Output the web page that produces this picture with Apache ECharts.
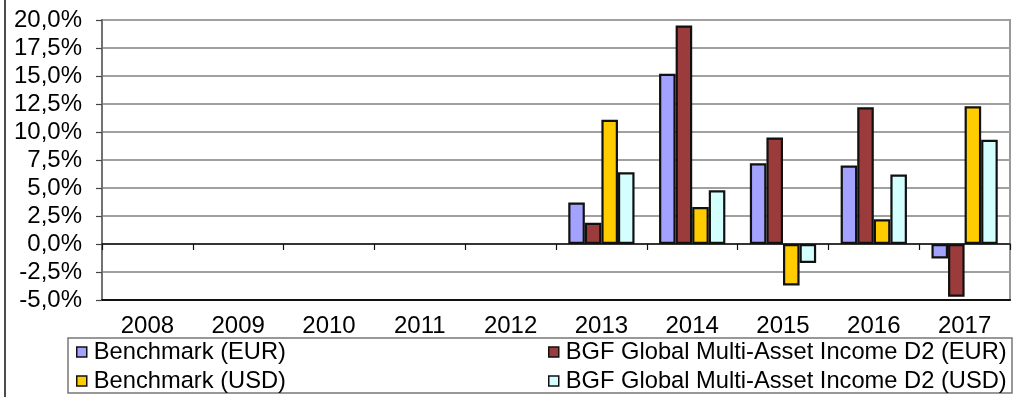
<!DOCTYPE html>
<html>
<head>
<meta charset="utf-8">
<script src="https://cdn.jsdelivr.net/npm/echarts@6/dist/echarts.min.js"></script>
<style>
html,body{margin:0;padding:0;background:#fff;}
#c{width:1013px;height:397px;}
</style>
</head>
<body>
<div id="c"></div>
<script>
var years = ['2008','2009','2010','2011','2012','2013','2014','2015','2016','2017'];
var benchmarkEUR = [null,null,null,null,null,3.7,15.2,7.2,7.0,-1.3];
var bgfEUR       = [null,null,null,null,null,1.9,19.5,9.5,12.2,-4.7];
var benchmarkUSD = [null,null,null,null,null,11.1,3.3,-3.7,2.2,12.3];
var bgfUSD       = [null,null,null,null,null,6.4,4.8,-1.7,6.2,9.3];
var seriesNames = ['Benchmark (EUR)','BGF Global Multi-Asset Income D2 (EUR)','Benchmark (USD)','BGF Global Multi-Asset Income D2 (USD)'];
var yMin = -5, yMax = 20, yStep = 2.5;

var colors = ['#a3a3ff','#9c3b3b','#ffcc00','#d4ffff'];
var font = '"Liberation Sans", Arial, sans-serif';

function bar(name, data, color){
  return {
    name: name, type: 'bar', data: data,
    xAxisIndex: 0, yAxisIndex: 0,
    barGap: '0%', barCategoryGap: '27%',
    itemStyle: {color: color, borderColor: '#111', borderWidth: 2.2},
    emphasis: {disabled: true},
    animation: false
  };
}

function legendBlock(names, left){
  return {data: names, orient: 'vertical', left: left, top: 340, height: 57, padding: 0,
    itemWidth: 10, itemHeight: 10, itemGap: 5, icon: 'rect',
    itemStyle: {borderColor: '#111', borderWidth: 1.5},
    textStyle: {fontSize: 23.7, fontFamily: font, color: '#000', lineHeight: 23, padding: [0,0,0,2]}};
}

var chart = echarts.init(document.getElementById('c'), null, {renderer: 'canvas'});
chart.setOption({
  animation: false,
  backgroundColor: '#fff',
  grid: {left: 102, right: 3, top: 20, bottom: 97, show: true, borderColor: '#999', borderWidth: 2, containLabel: false},
  xAxis: [
    {type: 'category', data: years, position: 'bottom',
     axisLine: {onZero: true, lineStyle: {color: '#111', width: 1.5}},
     axisTick: {show: true, length: 6, lineStyle: {color: '#111', width: 1.2}},
     axisLabel: {show: false}, splitLine: {show: false}},
    {type: 'category', data: years, position: 'bottom',
     axisLine: {onZero: false, lineStyle: {color: '#111', width: 2}},
     axisTick: {show: false},
     axisLabel: {show: true, margin: 14, color: '#000', fontSize: 24, fontFamily: font},
     splitLine: {show: false}}
  ],
  yAxis: {
    type: 'value', min: yMin, max: yMax, interval: yStep,
    axisLine: {show: true, lineStyle: {color: '#666', width: 1.5}},
    axisTick: {show: true, length: 6, lineStyle: {color: '#444', width: 1.2}},
    axisLabel: {margin: 20, color: '#000', fontSize: 24, fontFamily: font,
      formatter: function(v){ return v.toFixed(1).replace('.', ',') + '%'; }},
    splitLine: {show: true, lineStyle: {color: '#a0a0a0', width: 2}}
  },
  legend: [
    legendBlock([seriesNames[0], seriesNames[2]], 76),
    legendBlock([seriesNames[1], seriesNames[3]], 548)
  ],
  graphic: [
    {type: 'rect', shape: {x: 68, y: 338, width: 944, height: 55}, style: {fill: null, stroke: '#777', lineWidth: 1.5}, silent: true},
    {type: 'line', shape: {x1: 5, y1: 0, x2: 5, y2: 397}, style: {stroke: '#111', lineWidth: 1.5}, silent: true}
  ],
  series: [
    bar(seriesNames[0], benchmarkEUR, colors[0]),
    bar(seriesNames[1], bgfEUR, colors[1]),
    bar(seriesNames[2], benchmarkUSD, colors[2]),
    bar(seriesNames[3], bgfUSD, colors[3])
  ]
});
</script>
</body>
</html>
